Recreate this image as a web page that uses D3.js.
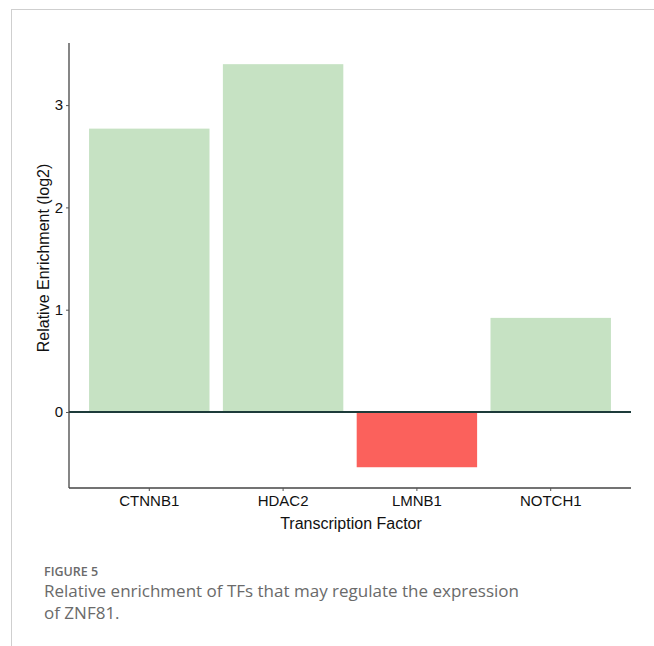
<!DOCTYPE html>
<html>
<head>
<meta charset="utf-8">
<style>
  body { margin: 0; background: #fff; }
  .tick text { font-family: "Liberation Sans", Arial, sans-serif; }
</style>
<script src="https://d3js.org/d3.v7.min.js"></script>
</head>
<body>
<svg width="654" height="646"></svg>
<script>
var factors = ["CTNNB1", "HDAC2", "LMNB1", "NOTCH1"];
var enrichment = [2.77, 3.40, -0.54, 0.92];
var yTicks = [0, 1, 2, 3];

var svg = d3.select("svg");

// light frame around the figure
svg.append("line").attr("x1", 11).attr("x2", 654).attr("y1", 9.5).attr("y2", 9.5)
    .attr("stroke", "#cfcfcf").attr("stroke-width", 1);
svg.append("line").attr("x1", 11.5).attr("x2", 11.5).attr("y1", 9).attr("y2", 646)
    .attr("stroke", "#cfcfcf").attr("stroke-width", 1);

var pLeft = 69, pRight = 631, pTop = 43, pBottom = 488;

var x = d3.scaleBand().domain(factors).range([pLeft, pRight])
    .paddingInner(0.1).paddingOuter(0.15);
var y = d3.scaleLinear().domain([-0.743, 3.607]).range([pBottom, pTop]);

var data = factors.map(function(f, i) { return {name: f, value: enrichment[i]}; });

svg.selectAll(".bar")
  .data(data)
  .enter().append("rect")
    .attr("class", "bar")
    .attr("x", function(d) { return x(d.name); })
    .attr("width", x.bandwidth())
    .attr("y", function(d) { return y(Math.max(0, d.value)); })
    .attr("height", function(d) { return Math.abs(y(d.value) - y(0)); })
    .attr("fill", function(d) { return d.value >= 0 ? "#c6e2c3" : "#fb615c"; });

// zero line
svg.append("line")
    .attr("x1", pLeft).attr("x2", pRight)
    .attr("y1", y(0)).attr("y2", y(0))
    .attr("stroke", "#1d3b3a").attr("stroke-width", 2.2);

var yAxis = svg.append("g")
    .attr("transform", "translate(" + pLeft + ",0)")
    .call(d3.axisLeft(y).tickValues(yTicks).tickFormat(d3.format("d")).tickSize(3).tickPadding(3));
var xAxis = svg.append("g")
    .attr("transform", "translate(0," + pBottom + ")")
    .call(d3.axisBottom(x).tickSize(3).tickPadding(4).tickSizeOuter(0));

yAxis.select(".domain").attr("d", "M0," + pTop + "V" + pBottom).attr("stroke", "#444").attr("stroke-width", 1.3);
xAxis.select(".domain").attr("d", "M" + pLeft + ",0H" + pRight).attr("stroke", "#444").attr("stroke-width", 1.3);
svg.selectAll(".tick line").attr("stroke", "#555");
svg.selectAll(".tick text").attr("font-size", 15).attr("fill", "#111");

svg.append("text")
    .attr("transform", "translate(49,258) rotate(-90)")
    .attr("text-anchor", "middle")
    .attr("font-family", "Liberation Sans, Arial, sans-serif")
    .attr("font-size", 16)
    .attr("fill", "#111")
    .text("Relative Enrichment (log2)");

svg.append("text")
    .attr("x", (pLeft + pRight) / 2 + 1)
    .attr("y", 529)
    .attr("text-anchor", "middle")
    .attr("font-family", "Liberation Sans, Arial, sans-serif")
    .attr("font-size", 16)
    .attr("fill", "#111")
    .text("Transcription Factor");

// caption
svg.append("text")
    .attr("x", 44).attr("y", 576)
    .attr("font-family", "Open Sans, sans-serif")
    .attr("font-size", 12.5).attr("font-weight", 600)
    .attr("fill", "#6a6a6a")
    .text("FIGURE 5");
svg.append("text")
    .attr("x", 44).attr("y", 597)
    .attr("font-family", "Open Sans, sans-serif")
    .attr("font-size", 17)
    .attr("fill", "#6a6a6a")
    .text("Relative enrichment of TFs that may regulate the expression");
svg.append("text")
    .attr("x", 44).attr("y", 619)
    .attr("font-family", "Open Sans, sans-serif")
    .attr("font-size", 17)
    .attr("fill", "#6a6a6a")
    .text("of ZNF81.");
</script>
</body>
</html>
